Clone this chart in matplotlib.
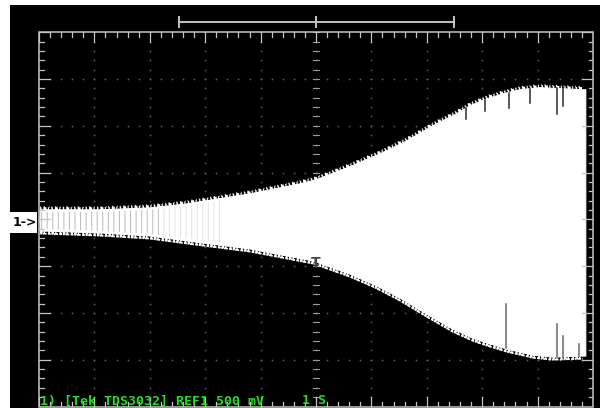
import matplotlib
matplotlib.use("Agg")
import matplotlib.pyplot as plt
from matplotlib.patches import Rectangle
import numpy as np

# REF1 trace envelope: time (s, 1 s/div) and peak voltage (V, 0.5 V/div)
t_upper = [0.02, 1.10, 2.00, 2.67, 3.81, 4.71, 5.00, 5.61, 6.16, 6.64, 7.11,
           7.54, 7.78, 8.09, 8.38, 8.68, 9.04, 9.82, 9.87]
v_upper = [0.102, 0.102, 0.123, 0.166, 0.273, 0.380, 0.423, 0.563, 0.702,
           0.840, 1.001, 1.130, 1.215, 1.290, 1.343, 1.386, 1.408, 1.386, 1.386]
t_lower = [0.02, 1.10, 2.00, 2.67, 3.81, 4.95, 5.61, 6.07, 6.52, 6.97, 7.47,
           7.83, 8.09, 8.45, 8.92, 9.28, 9.82, 9.87]
v_lower = [-0.123, -0.145, -0.177, -0.230, -0.316, -0.444, -0.584, -0.702,
           -0.841, -1.002, -1.173, -1.269, -1.322, -1.387, -1.451, -1.472,
           -1.461, -1.461]

# Sample dropouts inside the trace: (time, v_start, v_end)
dropouts_top = [(7.71, 1.19, 1.076), (8.05, 1.28, 1.162), (8.48, 1.35, 1.194),
                (8.86, 1.39, 1.247), (9.35, 1.40, 1.130), (9.46, 1.40, 1.215)]
dropouts_bottom = [(8.43, -1.38, -0.905), (9.35, -1.47, -1.119),
                   (9.46, -1.47, -1.247), (9.75, -1.46, -1.333)]

header = "1) [Tek TDS3032] REF1 500 mV"
timebase = "1 S"

W, H = 600, 408
fig = plt.figure(figsize=(W / 100, H / 100), dpi=100, facecolor="white")

# black screen area
fig.patches.append(Rectangle((10 / W, 0), 1, (H - 5) / H, transform=fig.transFigure,
                             facecolor="black", edgecolor="none", zorder=-10))

gx0, gx1, gy0, gy1 = 39, 593, 32.3, 406.5
ax = fig.add_axes([gx0 / W, (H - gy1) / H, (gx1 - gx0) / W, (gy1 - gy0) / H])
ax.set_xlim(0, 10)
ax.set_ylim(-2, 2)
ax.set_facecolor("black")
ax.axis("off")

px_x = 10 / (gx1 - gx0)
px_y = 4 / (gy1 - gy0)
gcol = "#c4c4c4"
dcol = "#5e5e5e"

# dotted grid on the major divisions
minor_x = np.round(np.arange(0, 10.001, 0.2), 3)
minor_y = np.round(np.arange(-2, 2.001, 0.1), 3)
for xm in range(1, 10):
    ax.scatter(np.full(len(minor_y), xm), minor_y, s=1.6, c=dcol, lw=0, zorder=1)
for ym in np.arange(-1.5, 1.51, 0.5):
    ax.scatter(minor_x, np.full(len(minor_x), ym), s=1.6, c=dcol, lw=0, zorder=1)

# center cross with small ticks
for ym in minor_y:
    ax.plot([5 - 3 * px_x, 5 + 3 * px_x], [ym, ym], color="#9a9a9a", lw=0.8, zorder=1)
for xm in minor_x:
    ax.plot([xm, xm], [-3 * px_y, 3 * px_y], color="#9a9a9a", lw=0.8, zorder=1)

# edge ticks
for xm in minor_x:
    L = 10 if abs(xm - round(xm)) < 1e-6 else 4.5
    ax.plot([xm, xm], [2, 2 - L * px_y], color=gcol, lw=0.9, zorder=3)
    ax.plot([xm, xm], [-2, -2 + L * px_y], color=gcol, lw=0.9, zorder=3)
for ym in minor_y:
    L = 11 if abs(ym * 2 - round(ym * 2)) < 1e-6 else 4.5
    ax.plot([0, L * px_x], [ym, ym], color=gcol, lw=0.9, zorder=3)
    ax.plot([10, 10 - L * px_x], [ym, ym], color=gcol, lw=0.9, zorder=3)
ax.add_patch(Rectangle((0, -2), 10, 4, fill=False, edgecolor=gcol, lw=1.1, zorder=3,
                       clip_on=False))

# trace body
poly_t = np.concatenate([t_upper, t_lower[::-1]])
poly_v = np.concatenate([v_upper, v_lower[::-1]])
ax.fill(poly_t, poly_v, facecolor="white", edgecolor="white", lw=0.8, zorder=2)

# fuzzy peak edges: dashed strokes hugging the envelope
edge_styles = [(1.2, 2.0, (0.5, 0.7, 1.1, 0.5, 0.4, 0.9)),
               (2.6, 1.3, (0.4, 1.6, 0.7, 2.2, 0.3, 1.1))]
for off, lw, dash in edge_styles:
    ax.plot(t_upper[:-1], np.array(v_upper[:-1]) + off * px_y, color="white",
            lw=lw, dashes=dash, zorder=2, solid_capstyle="butt")
    ax.plot(t_lower[:-1], np.array(v_lower[:-1]) - off * px_y, color="white",
            lw=lw, dashes=dash[::-1], zorder=2, solid_capstyle="butt")

# sparse sampling at low amplitude shows as vertical striations
plt.rcParams["hatch.linewidth"] = 0.7
plt.rcParams["hatch.color"] = "#3a3a3a"
for (ta, tb), alpha in (((0.0, 2.2), 0.35), ((2.2, 3.3), 0.15)):
    seg = np.linspace(ta, tb, 12)
    hi = np.interp(seg, t_upper, v_upper) - 2 * px_y
    lo = np.interp(seg, t_lower, v_lower) + 2 * px_y
    ax.fill_between(seg, lo, hi, facecolor="none", hatch="|||", edgecolor="#3a3a3a",
                    lw=0, alpha=alpha, zorder=2)

for tt, a, b in dropouts_top:
    ax.plot([tt, tt], [a, b], color="#2a2a2a", lw=1.1, zorder=2)
for tt, a, b in dropouts_bottom:
    ax.plot([tt, tt], [a, b], color="#6a6a6a", lw=1.1, zorder=2)

# trigger marker
ax.text(5.0, -0.47, "T", color="#484848", fontsize=10, fontweight="bold",
        ha="center", va="center", zorder=4)

# record-view bracket above the graticule
by = 2 + (gy0 - 22) * px_y
cap = 5 * px_y
ax.plot([2.53, 7.49], [by, by], color=gcol, lw=1.4, clip_on=False)
for bx in (2.53, 5.0, 7.49):
    ax.plot([bx, bx], [by - cap, by + cap], color=gcol, lw=1.4, clip_on=False)

# channel 1 ground marker
fig.patches.append(Rectangle((10 / W, (H - 233) / H), 27 / W, 21 / H,
                             transform=fig.transFigure, facecolor="white",
                             edgecolor="none", zorder=5))
fig.text(13 / W, (H - 222) / H, "1->", color="black", fontsize=9, fontweight="bold",
         ha="left", va="center", zorder=6)

# status line
fig.text(40 / W, (H - 401) / H, header, color="#22dd22", fontsize=9.5,
         family="DejaVu Sans Mono", fontweight="bold", ha="left", va="center")
fig.text(302 / W, (H - 401) / H, timebase, color="#22dd22", fontsize=9.5,
         family="DejaVu Sans Mono", fontweight="bold", ha="left", va="center")

fig.savefig("out.png", dpi=100, facecolor="white")
